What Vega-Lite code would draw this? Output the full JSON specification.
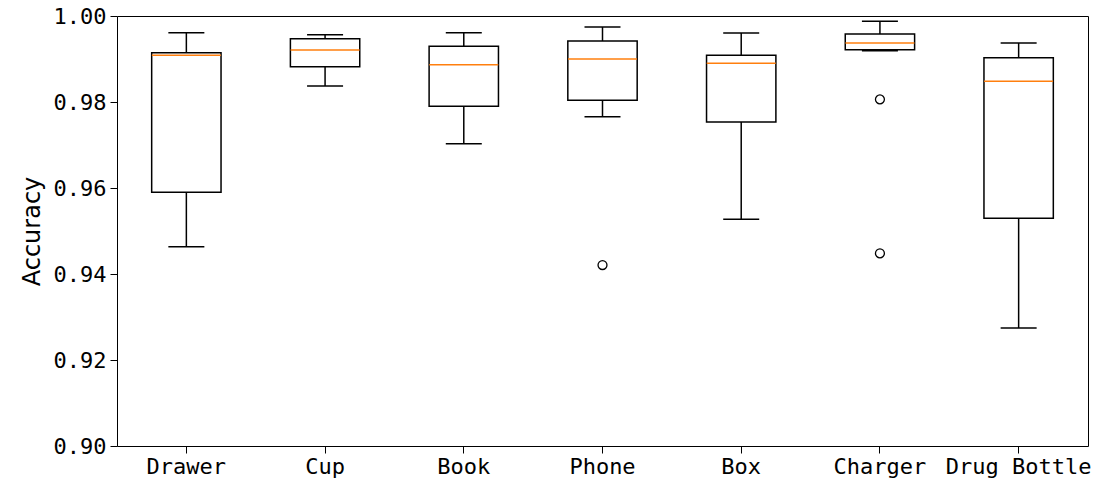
{
  "$schema": "https://vega.github.io/schema/vega-lite/v6.json",
  "width": 971,
  "height": 430,
  "autosize": {"type": "none"},
  "padding": {"left": 117, "top": 16, "right": 16, "bottom": 37},
  "background": "white",
  "datasets": {
    "stats": [
      {"object": "Drawer", "lower": 0.94635, "q1": 0.95900, "median": 0.99086, "q3": 0.99147, "upper": 0.99612},
      {"object": "Cup", "lower": 0.98372, "q1": 0.98822, "median": 0.99209, "q3": 0.99472, "upper": 0.99566},
      {"object": "Book", "lower": 0.97031, "q1": 0.97899, "median": 0.98868, "q3": 0.99294, "upper": 0.99612},
      {"object": "Phone", "lower": 0.97659, "q1": 0.98039, "median": 0.99000, "q3": 0.99419, "upper": 0.99744},
      {"object": "Box", "lower": 0.95272, "q1": 0.97535, "median": 0.98899, "q3": 0.99086, "upper": 0.99605},
      {"object": "Charger", "lower": 0.99194, "q1": 0.99217, "median": 0.99372, "q3": 0.99581, "upper": 0.99876},
      {"object": "Drug Bottle", "lower": 0.92744, "q1": 0.95295, "median": 0.98481, "q3": 0.99031, "upper": 0.99372}
    ],
    "outliers": [
      {"object": "Phone", "accuracy": 0.94209},
      {"object": "Charger", "accuracy": 0.98062},
      {"object": "Charger", "accuracy": 0.94481}
    ]
  },
  "encoding": {
    "x": {
      "field": "object", "type": "nominal",
      "sort": ["Drawer", "Cup", "Book", "Phone", "Box", "Charger", "Drug Bottle"],
      "scale": {"paddingInner": 0, "paddingOuter": 0},
      "axis": {"title": null, "labelAngle": 0, "labelFont": "DejaVu Sans Mono", "labelFontSize": 22, "tickSize": 7, "labelPadding": 3, "domain": false}
    }
  },
  "layer": [
    {
      "data": {"name": "stats"},
      "mark": {"type": "rule", "color": "black", "strokeWidth": 1.5},
      "encoding": {
        "y": {"field": "lower", "type": "quantitative",
          "scale": {"domain": [0.9, 1.0], "nice": false, "zero": false},
          "axis": {"title": "Accuracy", "values": [0.9, 0.92, 0.94, 0.96, 0.98, 1.0], "format": ".2f",
            "labelFont": "DejaVu Sans Mono", "labelFontSize": 22, "tickSize": 7, "labelPadding": 4,
            "titleFont": "DejaVu Sans", "titleFontSize": 24, "titleFontWeight": "normal", "titlePadding": 9, "domain": false}},
        "y2": {"field": "upper"}
      }
    },
    {
      "data": {"name": "stats"},
      "mark": {"type": "bar", "fill": "white", "stroke": "black", "strokeWidth": 1.5, "width": {"band": 0.5}},
      "encoding": {
        "y": {"field": "q1", "type": "quantitative"},
        "y2": {"field": "q3"}
      }
    },
    {
      "data": {"name": "stats"},
      "mark": {"type": "tick", "color": "black", "size": 36, "thickness": 1.5, "opacity": 1},
      "encoding": {"y": {"field": "upper", "type": "quantitative"}}
    },
    {
      "data": {"name": "stats"},
      "mark": {"type": "tick", "color": "black", "size": 36, "thickness": 1.5, "opacity": 1},
      "encoding": {"y": {"field": "lower", "type": "quantitative"}}
    },
    {
      "data": {"name": "stats"},
      "mark": {"type": "tick", "color": "#ff7f0e", "size": 69, "thickness": 1.5, "opacity": 1},
      "encoding": {"y": {"field": "median", "type": "quantitative"}}
    },
    {
      "data": {"name": "outliers"},
      "mark": {"type": "point", "shape": "circle", "filled": false, "stroke": "black", "strokeWidth": 1.3, "size": 80, "opacity": 1},
      "encoding": {"y": {"field": "accuracy", "type": "quantitative"}}
    }
  ],
  "config": {
    "view": {"stroke": "black", "strokeWidth": 1},
    "axis": {"grid": false, "tickColor": "black", "labelColor": "black", "titleColor": "black", "domainColor": "black"}
  }
}
